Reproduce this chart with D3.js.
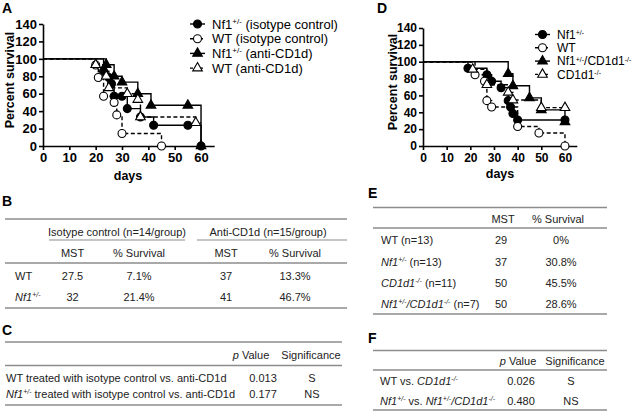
<!DOCTYPE html>
<html><head><meta charset="utf-8">
<script src="https://cdn.jsdelivr.net/npm/d3@7"></script>
<style>body{margin:0;background:#fff}svg{display:block}</style>
</head><body>
<script>
// ---------- DATA ----------
const dayTicks = [0, 10, 20, 30, 40, 50, 60];
const survTicks = [0, 20, 40, 60, 80, 100, 120, 140];

// Panel A (step points after each event)
const aNf1IsoDays  = [23, 25, 26, 27, 30, 32, 37, 42, 55, 60];
const aNf1IsoSurv  = [85.7, 78.6, 71.4, 57.1, 57.1, 42.9, 33.3, 23.8, 23.8, 0];
const aWtIsoDays   = [20, 21, 23, 27, 28, 30, 45];
const aWtIsoSurv   = [92.9, 78.6, 57.1, 50, 35.7, 14.3, 0];
const aNf1AntiDays = [24, 27, 30, 36, 41, 55, 60];
const aNf1AntiSurv = [93.3, 80, 73.3, 60, 46.7, 46.7, 0];
const aWtAntiDays  = [20, 24, 25, 32, 36, 37, 58];
const aWtAntiSurv  = [93.3, 80, 66.7, 60, 53.3, 33.3, 26.7];
const aLegend = [
  [["Nf1"], ["+/-", "sup"], [" (isotype control)"]],
  [["WT (isotype control)"]],
  [["Nf1"], ["+/-", "sup"], [" (anti-CD1d)"]],
  [["WT (anti-CD1d)"]]
];

// Panel D
const dNf1Days  = [19, 27, 29, 33, 36, 37, 38, 40, 60];
const dNf1Surv  = [92.3, 84.6, 76.9, 69.2, 53.8, 46.2, 38.5, 30.8, 30.8];
const dWtDays   = [22, 26, 27, 29, 40, 49, 60];
const dWtSurv   = [84.6, 76.9, 53.8, 46.2, 23.1, 15.4, 0];
const dDkoDays  = [36, 38, 45, 50, 60];
const dDkoSurv  = [85.7, 71.4, 57.1, 42.9, 28.6];
const dCd1dDays = [21, 27, 36, 38, 50, 60];
const dCd1dSurv = [90.9, 72.7, 63.6, 54.5, 45.5, 45.5];
const dLegend = [
  [["Nf1"], ["+/-", "sup"]],
  [["WT"]],
  [["Nf1"], ["+/-", "sup"], ["/CD1d1"], ["-/-", "sup"]],
  [["CD1d1"], ["-/-", "sup"]]
];

// Table B
const bHeadGroups = ["Isotype control (n=14/group)", "Anti-CD1d (n=15/group)"];
const bHeadCols = ["MST", "% Survival", "MST", "% Survival"];
const bRows = [[["WT"]], [["Nf1", "i"], ["+/-", "isup"]]];
const bIsoMST = ["27.5", "32"];
const bIsoSurv = ["7.1%", "21.4%"];
const bAntiMST = ["37", "41"];
const bAntiSurv = ["13.3%", "46.7%"];

// Table C
const cRows = [
  [["WT treated with isotype control vs. anti-CD1d"]],
  [["Nf1", "i"], ["+/-", "isup"], [" treated with isotype control vs. anti-CD1d"]]
];
const cP = ["0.013", "0.177"];
const cSig = ["S", "NS"];

// Table E
const eRows = [
  [["WT (n=13)"]],
  [["Nf1", "i"], ["+/-", "isup"], [" (n=13)"]],
  [["CD1d1", "i"], ["-/-", "isup"], [" (n=11)"]],
  [["Nf1", "i"], ["+/-", "isup"], ["/CD1d1", "i"], ["-/-", "isup"], [" (n=7)"]]
];
const eMST = ["29", "37", "50", "50"];
const eSurv = ["0%", "30.8%", "45.5%", "28.6%"];

// Table F
const fRows = [
  [["WT vs. "], ["CD1d1", "i"], ["-/-", "isup"]],
  [["Nf1", "i"], ["+/-", "isup"], [" vs. "], ["Nf1", "i"], ["+/-", "isup"], ["/CD1d1", "i"], ["-/-", "isup"]]
];
const fP = ["0.026", "0.480"];
const fSig = ["S", "NS"];

// ---------- DRAW ----------
const FONT = "'Liberation Sans', Arial, Helvetica, sans-serif";
const svg = d3.select("body").append("svg").attr("width", 641).attr("height", 415)
  .style("font-family", FONT);
svg.append("rect").attr("width", 641).attr("height", 415).attr("fill", "#fff");

function rich(g, x, y, segs, o = {}) {
  const size = o.size || 11, supSize = o.supSize || 7, supShift = o.supShift || 4;
  const t = g.append("text").attr("x", x).attr("y", y)
    .attr("font-size", size).attr("fill", o.fill || "#222")
    .attr("text-anchor", o.anchor || "start");
  if (o.weight) t.attr("font-weight", o.weight);
  let shift = 0;
  segs.forEach(([s, st = ""]) => {
    const sup = st.includes("sup");
    const target = sup ? -supShift : 0;
    const ts = t.append("tspan").text(s);
    if (target - shift !== 0) ts.attr("dy", target - shift);
    shift = target;
    if (sup) ts.attr("font-size", supSize);
    if (st.startsWith("i")) ts.attr("font-style", "italic");
  });
  return t;
}

const shapes = {
  fc: { sym: d3.symbolCircle, size: 50, fill: "#000" },
  oc: { sym: d3.symbolCircle, size: 50, fill: "#fff" },
  ft: { sym: d3.symbolTriangle, size: 40, fill: "#000" },
  ot: { sym: d3.symbolTriangle, size: 40, fill: "#fff" }
};

function kmPanel(cfg) {
  const g = svg.append("g");
  const x = d3.scaleLinear().domain([0, 65]).range(cfg.xr);
  const y = d3.scaleLinear().domain([0, 140]).range(cfg.yr);
  const ya = g.append("g").attr("transform", `translate(${cfg.xr[0]},0)`)
    .call(d3.axisLeft(y).tickValues(survTicks).tickSize(4).tickSizeOuter(0).tickPadding(2));
  const xa = g.append("g").attr("transform", `translate(0,${cfg.yr[0]})`)
    .call(d3.axisBottom(x).tickValues(dayTicks).tickSize(4).tickSizeOuter(0).tickPadding(3));
  [ya, xa].forEach(a => {
    a.selectAll("path,line").attr("stroke", "#000").attr("stroke-width", 1.6);
    a.selectAll("text").attr("font-size", cfg.tickFont).attr("font-weight", "bold")
      .attr("fill", "#000").style("font-family", FONT);
  });
  g.append("text").attr("transform", `translate(${cfg.ylab[0]},${cfg.ylab[1]}) rotate(-90)`)
    .attr("text-anchor", "middle").attr("font-size", 12.5).attr("font-weight", "bold")
    .text("Percent survival");
  g.append("text").attr("x", cfg.xlab[0]).attr("y", cfg.xlab[1]).attr("text-anchor", "middle")
    .attr("font-size", 12.5).attr("font-weight", "bold").text("days");
  g.append("text").attr("x", cfg.letter[0]).attr("y", cfg.letter[1])
    .attr("font-size", 14).attr("font-weight", "bold").text(cfg.letterText);

  const line = d3.line().x(d => x(d[0])).y(d => y(d[1])).curve(d3.curveStepAfter);
  cfg.series.forEach(s => {
    const pts = [[0, 100]].concat(s.days.map((dd, i) => [dd, s.surv[i]]));
    const last = pts[pts.length - 1];
    if (last[0] < 60 && last[1] > 0) pts.push([60, last[1]]);
    g.append("path").attr("d", line(pts)).attr("fill", "none").attr("stroke", "#000")
      .attr("stroke-width", 1.4).attr("stroke-dasharray", s.dash ? "4,2.5" : null);
  });
  cfg.series.forEach(s => {
    const sh = shapes[s.shape];
    g.selectAll(null).data(s.days.map((dd, i) => [dd, s.surv[i]])).join("path")
      .attr("transform", d => `translate(${x(d[0])},${y(d[1])})`)
      .attr("d", d3.symbol(sh.sym, sh.size)).attr("fill", sh.fill)
      .attr("stroke", "#000").attr("stroke-width", 1.1);
  });
  cfg.series.forEach((s, i) => {
    const ly = cfg.leg.y0 + i * cfg.leg.dy;
    const sh = shapes[s.shape];
    g.append("line").attr("x1", cfg.leg.x0).attr("x2", cfg.leg.x0 + 15)
      .attr("y1", ly).attr("y2", ly).attr("stroke", "#000").attr("stroke-width", 1.4)
      .attr("stroke-dasharray", s.dash ? "3,2" : null);
    g.append("path").attr("transform", `translate(${cfg.leg.x0 + 7.5},${ly})`)
      .attr("d", d3.symbol(sh.sym, sh.size)).attr("fill", sh.fill)
      .attr("stroke", "#000").attr("stroke-width", 1.1);
    rich(g, cfg.leg.x0 + 22, ly + cfg.leg.base, cfg.legend[i],
      { size: cfg.leg.size, supSize: cfg.leg.supSize, supShift: cfg.leg.supShift, fill: "#000" });
  });
}

kmPanel({
  xr: [43, 214.2], yr: [146, 24], tickFont: 13,
  ylab: [14, 80], xlab: [128, 179.5], letter: [2, 13], letterText: "A",
  leg: { x0: 190, y0: 24, dy: 14.7, size: 13, supSize: 8, supShift: 5, base: 4.5 }, legend: aLegend,
  series: [
    { days: aNf1IsoDays, surv: aNf1IsoSurv, shape: "fc", dash: false },
    { days: aWtIsoDays, surv: aWtIsoSurv, shape: "oc", dash: true },
    { days: aNf1AntiDays, surv: aNf1AntiSurv, shape: "ft", dash: false },
    { days: aWtAntiDays, surv: aWtAntiSurv, shape: "ot", dash: true }
  ]
});
kmPanel({
  xr: [423, 576.8], yr: [146, 28], tickFont: 12,
  ylab: [397, 82], xlab: [500, 177.5], letter: [377, 13], letterText: "D",
  leg: { x0: 535, y0: 34.5, dy: 13.3, size: 12, supSize: 7, supShift: 3.5, base: 4.2 }, legend: dLegend,
  series: [
    { days: dNf1Days, surv: dNf1Surv, shape: "fc", dash: false },
    { days: dWtDays, surv: dWtSurv, shape: "oc", dash: true },
    { days: dDkoDays, surv: dDkoSurv, shape: "ft", dash: false },
    { days: dCd1dDays, surv: dCd1dSurv, shape: "ot", dash: true }
  ]
});

// ---------- TABLES ----------
const RULE = "#8c8c8c";
function rule(x1, x2, yy, w = 1.6) {
  svg.append("line").attr("x1", x1).attr("x2", x2).attr("y1", yy).attr("y2", yy)
    .attr("stroke", RULE).attr("stroke-width", w);
}
function letter(t, lx, ly) {
  svg.append("text").attr("x", lx).attr("y", ly).attr("font-size", 14)
    .attr("font-weight", "bold").text(t);
}
function cell(tx, cx, cy, anchor = "middle") {
  rich(svg, cx, cy, [[tx]], { anchor });
}

// B
letter("B", 2, 206);
rule(5, 347, 219);
cell(bHeadGroups[0], 117, 236);
cell(bHeadGroups[1], 268, 236);
rule(49, 185, 240, 1.2);
rule(197, 347, 240, 1.2);
const bColX = [72.5, 139, 226, 295];
bHeadCols.forEach((h, i) => cell(h, bColX[i], 256.5));
rule(5, 347, 263);
bRows.forEach((r, i) => {
  const yy = [280, 301][i];
  rich(svg, 15, yy, r);
  cell(bIsoMST[i], bColX[0], yy);
  cell(bIsoSurv[i], bColX[1], yy);
  cell(bAntiMST[i], bColX[2], yy);
  cell(bAntiSurv[i], bColX[3], yy);
});
rule(5, 347, 308);

// C
letter("C", 2, 335);
rule(5, 342, 342);
rich(svg, 251, 359, [["p", "i"], [" Value"]], { anchor: "middle" });
cell("Significance", 311, 359);
rule(5, 342, 365.5);
cRows.forEach((r, i) => {
  const yy = [382, 397.5][i];
  rich(svg, 6, yy, r);
  cell(cP[i], 263, yy);
  cell(cSig[i], 312, yy);
});
rule(5, 342, 405);

// E
letter("E", 368, 198);
rule(373, 607, 207.5);
cell("MST", 503, 223);
cell("% Survival", 558, 223);
rule(373, 607, 228);
eRows.forEach((r, i) => {
  const yy = [244, 265.5, 287, 308][i];
  rich(svg, 381, yy, r);
  cell(eMST[i], 501, yy);
  cell(eSurv[i], 561, yy);
});
rule(373, 607, 314);

// F
letter("F", 368, 343);
rule(373, 607, 350.5);
rich(svg, 518, 365, [["p", "i"], [" Value"]], { anchor: "middle" });
cell("Significance", 575, 365);
rule(373, 607, 370);
fRows.forEach((r, i) => {
  const yy = [384.5, 404.5][i];
  rich(svg, 380, yy, r);
  cell(fP[i], 521, yy);
  cell(fSig[i], 571, yy);
});
rule(373, 607, 410);
</script>
</body></html>
